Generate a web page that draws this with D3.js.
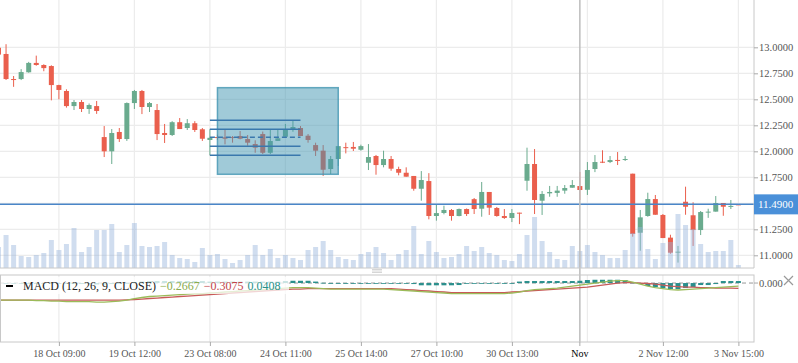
<!DOCTYPE html>
<html>
<head>
<meta charset="utf-8">
<script src="https://cdn.jsdelivr.net/npm/d3@7"></script>
<style>
    body { margin: 0; background: #fff; }
    svg { display: block; font-family: "Liberation Serif", "Times New Roman", serif; }
</style>
</head>
<body>
<script>
// candles, one per bar index
let open = [12.996, 12.936, 12.695, 12.695, 12.76, 12.85, 12.83, 12.82, 12.637, 12.58,
    12.435, 12.474, 12.407, 12.435, 12.137, 12.0, 12.186, 12.118, 12.464, 12.58,
    12.426, 12.397, 12.176, 12.157, 12.28, 12.224, 12.27, 12.212, 12.109, 12.137,
    12.135, 12.137, 12.147, 12.118, 12.07, 12.166, 11.986, 12.10, 12.14, 12.212,
    12.224, 12.15, 12.06, 12.006, 11.83, 11.926, 12.04, 12.042, 12.015, 11.89,
    11.955, 11.868, 11.926, 11.83, 11.794, 11.763, 11.64, 11.714, 11.378, 11.407,
    11.436, 11.378, 11.445, 11.54, 11.448, 11.609, 11.455, 11.378, 11.359, 11.41,
    11.717, 11.878, 11.525, 11.596, 11.60, 11.622, 11.65, 11.666, 11.63, 11.83,
    11.90, 11.897, 11.917, 11.92, 11.785, 11.217, 11.378, 11.541, 11.388, 11.17,
    11.03, 11.515, 11.385, 11.243, 11.416, 11.42, 11.503, 11.47, 11.49];
let high = [13.11, 13.03, 12.724, 12.79, 12.86, 12.92, 12.837, 12.827, 12.64, 12.596,
    12.493, 12.493, 12.46, 12.484, 12.243, 12.214, 12.224, 12.47, 12.59, 12.59,
    12.474, 12.455, 12.263, 12.29, 12.32, 12.31, 12.29, 12.224, 12.212, 12.16,
    12.205, 12.147, 12.195, 12.157, 12.106, 12.19, 12.205, 12.205, 12.263, 12.294,
    12.243, 12.166, 12.083, 12.06, 11.955, 12.05, 12.083, 12.09, 12.064, 12.07,
    11.965, 12.006, 11.955, 11.852, 11.846, 11.763, 11.81, 11.79, 11.49, 11.477,
    11.445, 11.45, 11.45, 11.551, 11.705, 11.609, 11.465, 11.445, 11.445, 11.41,
    12.035, 12.022, 11.618, 11.667, 11.667, 11.676, 11.724, 11.801, 11.897, 11.964,
    12.01, 11.955, 11.993, 11.955, 11.785, 11.436, 11.602, 11.58, 11.397, 11.198,
    11.09, 11.66, 11.51, 11.426, 11.448, 11.57, 11.503, 11.532, 11.49];
let low = [12.88, 12.686, 12.62, 12.685, 12.756, 12.823, 12.77, 12.49, 12.50, 12.42,
    12.397, 12.378, 12.36, 12.36, 11.945, 11.878, 12.09, 12.10, 12.407, 12.358,
    12.378, 12.108, 12.08, 12.147, 12.214, 12.205, 12.186, 12.10, 11.962, 12.11,
    12.067, 12.083, 12.115, 12.054, 11.986, 11.974, 11.974, 12.10, 12.14, 12.188,
    12.147, 12.083, 11.955, 11.763, 11.782, 11.859, 11.98, 12.003, 12.006, 11.82,
    11.775, 11.846, 11.813, 11.769, 11.756, 11.621, 11.525, 11.346, 11.333, 11.394,
    11.333, 11.375, 11.378, 11.397, 11.371, 11.388, 11.371, 11.35, 11.32, 11.30,
    11.621, 11.397, 11.388, 11.563, 11.563, 11.592, 11.65, 11.532, 11.58, 11.80,
    11.887, 11.887, 11.868, 11.907, 11.179, 11.044, 11.371, 11.39, 11.166, 11.015,
    10.93, 11.39, 11.09, 11.195, 11.36, 11.42, 11.38, 11.445, 11.487];
let close = [12.93, 12.695, 12.69, 12.762, 12.85, 12.83, 12.80, 12.637, 12.59, 12.435,
    12.474, 12.407, 12.445, 12.388, 12.0, 12.176, 12.118, 12.464, 12.58, 12.426,
    12.464, 12.166, 12.157, 12.28, 12.214, 12.27, 12.205, 12.121, 12.13, 12.133,
    12.121, 12.133, 12.121, 12.083, 12.035, 11.986, 12.099, 12.125, 12.212, 12.234,
    12.147, 12.109, 12.006, 11.823, 11.926, 12.05, 12.033, 12.025, 12.05, 11.945,
    11.868, 11.926, 11.833, 11.794, 11.756, 11.64, 11.724, 11.378, 11.406, 11.436,
    11.378, 11.445, 11.397, 11.445, 11.609, 11.458, 11.378, 11.359, 11.407, 11.405,
    11.878, 11.532, 11.59, 11.609, 11.622, 11.647, 11.676, 11.628, 11.82, 11.897,
    11.893, 11.916, 11.913, 11.926, 11.205, 11.365, 11.541, 11.39, 11.166, 11.025,
    11.035, 11.467, 11.243, 11.416, 11.42, 11.503, 11.467, 11.475, 11.488];
let volume = [21, 33, 23, 12, 11, 13, 15, 28, 18, 24,
    40, 16, 21, 38, 38, 44, 16, 23, 45, 22,
    21, 22, 26, 13, 10, 9, 6, 20, 13, 14,
    9, 5, 8, 13, 23, 13, 19, 10, 13, 10,
    8, 18, 21, 27, 18, 11, 9, 8, 14, 16,
    21, 15, 8, 14, 18, 42, 14, 27, 16, 10,
    11, 14, 22, 17, 21, 15, 13, 8, 7, 14,
    33, 51, 27, 16, 9, 8, 22, 17, 23, 16,
    13, 10, 10, 18, 35, 41, 19, 9, 25, 26,
    54, 43, 39, 24, 16, 17, 17, 28, 3];

// MACD (12, 26, 9)
let macd = [-0.254, -0.254, -0.254, -0.254, -0.254, -0.261, -0.261, -0.269, -0.269, -0.276,
    -0.276, -0.276, -0.276, -0.284, -0.284, -0.276, -0.269, -0.254, -0.231, -0.216,
    -0.201, -0.194, -0.187, -0.179, -0.172, -0.164, -0.157, -0.157, -0.149, -0.142,
    -0.134, -0.127, -0.119, -0.112, -0.104, -0.097, -0.090, -0.082, -0.075, -0.067,
    -0.067, -0.067, -0.075, -0.082, -0.090, -0.090, -0.090, -0.090, -0.090, -0.090,
    -0.090, -0.090, -0.097, -0.104, -0.112, -0.119, -0.127, -0.134, -0.142, -0.149,
    -0.157, -0.157, -0.157, -0.157, -0.157, -0.157, -0.157, -0.157, -0.149, -0.134,
    -0.112, -0.097, -0.090, -0.082, -0.075, -0.060, -0.045, -0.030, -0.015, 0,
    0.015, 0.030, 0.037, 0.037, 0.015, -0.015, -0.045, -0.067, -0.082, -0.097,
    -0.104, -0.097, -0.090, -0.082, -0.075, -0.067, -0.060, -0.052, -0.045];
let signal = [-0.254, -0.254, -0.254, -0.254, -0.254, -0.254, -0.254, -0.254, -0.254, -0.254,
    -0.254, -0.254, -0.254, -0.254, -0.254, -0.254, -0.254, -0.251, -0.246, -0.239,
    -0.231, -0.224, -0.216, -0.209, -0.201, -0.194, -0.187, -0.179, -0.172, -0.164,
    -0.157, -0.149, -0.142, -0.134, -0.127, -0.119, -0.112, -0.104, -0.097, -0.090,
    -0.090, -0.082, -0.082, -0.082, -0.082, -0.082, -0.082, -0.082, -0.082, -0.082,
    -0.082, -0.082, -0.082, -0.090, -0.097, -0.104, -0.112, -0.119, -0.127, -0.134,
    -0.142, -0.142, -0.142, -0.142, -0.142, -0.142, -0.142, -0.142, -0.134, -0.127,
    -0.119, -0.112, -0.104, -0.097, -0.090, -0.082, -0.075, -0.067, -0.060, -0.045,
    -0.030, -0.015, 0, 0.007, 0.007, 0, -0.007, -0.015, -0.030, -0.045,
    -0.052, -0.060, -0.060, -0.067, -0.067, -0.075, -0.075, -0.075, -0.079];
let hist = [-0.004, -0.004, -0.004, -0.004, -0.004, -0.004, -0.004, -0.004, -0.004, -0.004,
    -0.015, -0.015, -0.015, -0.022, -0.022, -0.015, -0.015, 0, 0.015, 0.022,
    0.030, 0.030, 0.030, 0.030, 0.030, 0.030, 0.030, 0.030, 0.022, 0.022,
    0.022, 0.022, 0.022, 0.022, 0.022, 0.022, 0.022, 0.022, 0.030, 0.034,
    0.034, 0.034, 0.022, 0.004, 0, -0.004, -0.004, -0.004, -0.004, -0.004,
    -0.004, -0.004, -0.007, -0.007, -0.007, -0.015, -0.034, -0.034, -0.034, -0.034,
    -0.034, -0.030, -0.007, -0.007, -0.007, -0.007, -0.007, -0.007, 0, 0.022,
    0.030, 0.030, 0.030, 0.030, 0.030, 0.030, 0.030, 0.034, 0.045, 0.049,
    0.049, 0.049, 0.049, 0.045, 0.007, -0.015, -0.045, -0.060, -0.075, -0.090,
    -0.090, -0.075, -0.060, -0.030, -0.030, -0.015, 0.030, 0.030, 0.030];
let macdLegend = ["\u22120.2667", "\u22120.3075", "0.0408"];

// axes
let priceTicks = [11, 11.25, 11.5, 11.75, 12, 12.25, 12.5, 12.75, 13];
let gridIdx = [8, 18, 28, 38, 48, 58, 68, 78, 88, 98];
let labelIdx = [8, 18, 28, 38, 48, 58, 68, 88, 98];
let labels = ["18 Oct 09:00", "19 Oct 12:00", "23 Oct 08:00", "24 Oct 11:00", "25 Oct 14:00",
    "27 Oct 10:00", "30 Oct 13:00", "2 Nov 12:00", "3 Nov 15:00"];
let cursorIdx = 77, cursorLabel = "Nov";
let lastPrice = 11.49;

// drawings on the chart
let boxIdx = [29, 45], boxPrice = [12.612, 11.779];
let levelIdx = [28, 40];
let levels = [12.298, 12.212, 12.135, 12.048, 11.962];

const plotR = 754, mainB = 268, macdT = 275, macdB = 342;

let svg = d3.select("body").append("svg").attr("width", 798).attr("height", 363);

let x = d3.scaleLinear().domain([0, 98]).range([-1.5, 738.4]);
let y = d3.scaleLinear().domain([10.878, 13.455]).range([mainB, 0]);
let yVol = d3.scaleLinear().domain([0, 100]).range([mainB, mainB - 100]);
let yM = d3.scaleLinear().domain([-0.88, 0.12]).range([macdB, macdT]);

let defs = svg.append("defs");
defs.append("clipPath").attr("id", "clipMain")
    .append("rect").attr("x", 0).attr("y", 0).attr("width", plotR).attr("height", mainB);
defs.append("clipPath").attr("id", "clipMacd")
    .append("rect").attr("x", 0).attr("y", macdT).attr("width", plotR).attr("height", macdB - macdT);

// grid
let grid = svg.append("g").attr("stroke", "#ececec").attr("stroke-width", 1.2);
priceTicks.forEach((p) => {
    grid.append("line").attr("x1", 0).attr("x2", plotR).attr("y1", y(p)).attr("y2", y(p));
});
gridIdx.forEach((i) => {
    grid.append("line").attr("x1", x(i)).attr("x2", x(i)).attr("y1", 0).attr("y2", mainB);
    grid.append("line").attr("x1", x(i)).attr("x2", x(i)).attr("y1", macdT).attr("y2", macdB);
});

let main = svg.append("g").attr("clip-path", "url(#clipMain)");
let idx = d3.range(open.length);
const red = "#ea5f4d", green = "#6aab8e";
let col = (i) => (close[i] >= open[i] ? green : red);

main.selectAll(".wick").data(idx).join("line")
    .attr("x1", (i) => x(i)).attr("x2", (i) => x(i))
    .attr("y1", (i) => y(high[i])).attr("y2", (i) => y(low[i]))
    .attr("stroke", col).attr("stroke-width", 1);
main.selectAll(".body").data(idx).join("rect")
    .attr("x", (i) => x(i) - 2.5).attr("width", 5)
    .attr("y", (i) => y(Math.max(open[i], close[i])))
    .attr("height", (i) => Math.max(1, Math.abs(y(open[i]) - y(close[i]))))
    .attr("fill", col);

// last price line
main.append("line").attr("x1", 0).attr("x2", plotR)
    .attr("y1", y(lastPrice)).attr("y2", y(lastPrice))
    .attr("stroke", "#4a86c8").attr("stroke-width", 1.5);

main.selectAll(".vol").data(idx).join("rect")
    .attr("x", (i) => x(i) - 2.5).attr("width", 5)
    .attr("y", (i) => yVol(volume[i]))
    .attr("height", (i) => mainB - yVol(volume[i]))
    .attr("fill", "rgba(150,180,220,0.45)");

// rectangle drawing
main.append("rect")
    .attr("x", x(boxIdx[0])).attr("y", y(boxPrice[0]))
    .attr("width", x(boxIdx[1]) - x(boxIdx[0]))
    .attr("height", y(boxPrice[1]) - y(boxPrice[0]))
    .attr("fill", "rgba(65,149,177,0.5)")
    .attr("stroke", "rgba(65,149,177,0.8)").attr("stroke-width", 1.5);

levels.forEach((p, k) => {
    main.append("line")
        .attr("x1", x(levelIdx[0])).attr("x2", x(levelIdx[1]))
        .attr("y1", y(p)).attr("y2", y(p))
        .attr("stroke", "#3a78ad").attr("stroke-width", 1.5)
        .attr("stroke-dasharray", k == 2 ? "5,3" : null);
});

// cursor line
svg.append("line").attr("x1", x(cursorIdx)).attr("x2", x(cursorIdx))
    .attr("y1", 0).attr("y2", macdB)
    .attr("stroke", "#bdbdbd").attr("stroke-width", 1.5);

// frame
svg.append("line").attr("x1", plotR).attr("x2", plotR).attr("y1", 0).attr("y2", mainB)
    .attr("stroke", "#c8c8c8");
svg.append("line").attr("x1", 0).attr("x2", plotR).attr("y1", mainB).attr("y2", mainB)
    .attr("stroke", "#c8c8c8");

// price axis
let yAxis = svg.append("g").attr("transform", `translate(${plotR},0)`)
    .call(d3.axisRight(y).tickValues(priceTicks).tickFormat(d3.format(".4f")).tickSize(4).tickPadding(1));
yAxis.select(".domain").remove();
yAxis.selectAll("line").attr("stroke", "#aaa");
yAxis.selectAll("text").attr("fill", "#555").style("font-size", "10.5px").style("font-family", "Liberation Serif");

svg.append("rect").attr("x", plotR).attr("y", y(lastPrice) - 10)
    .attr("width", 44).attr("height", 20).attr("fill", "#4a90d9");
svg.append("text").attr("x", plotR + 4).attr("y", y(lastPrice)).attr("dy", "0.35em")
    .attr("fill", "#fff").style("font-size", "11px").text(d3.format(".4f")(lastPrice));

// pane grip
[269.5, 271, 272.5].forEach((gy) => {
    svg.append("line").attr("x1", 372).attr("x2", 382).attr("y1", gy).attr("y2", gy)
        .attr("stroke", "#ccc").attr("stroke-width", 0.8);
});

// MACD pane
let mp = svg.append("g").attr("clip-path", "url(#clipMacd)");
mp.append("line").attr("x1", 0).attr("x2", plotR).attr("y1", yM(0)).attr("y2", yM(0))
    .attr("stroke", "#999").attr("stroke-dasharray", "4,3");
mp.selectAll(".hist").data(idx).join("rect")
    .attr("x", (i) => x(i) - 2.5).attr("width", 5)
    .attr("y", (i) => Math.min(yM(0), yM(hist[i])))
    .attr("height", (i) => Math.max(0.8, Math.abs(yM(hist[i]) - yM(0))))
    .attr("fill", "#2a8f8c");
let lineGen = (arr) => d3.line().x((i) => x(i)).y((i) => yM(arr[i]))(idx);
mp.append("path").attr("d", lineGen(signal)).attr("fill", "none")
    .attr("stroke", "#c85a58").attr("stroke-width", 1.3);
mp.append("path").attr("d", lineGen(macd)).attr("fill", "none")
    .attr("stroke", "#9bbb59").attr("stroke-width", 1.3);

svg.append("rect").attr("x", 0.5).attr("y", macdT).attr("width", plotR - 0.5).attr("height", macdB - macdT)
    .attr("fill", "none").attr("stroke", "#c8c8c8");

// legend
svg.append("rect").attr("x", 1).attr("y", 277).attr("width", 288).attr("height", 17)
    .attr("fill", "rgba(255,255,255,0.75)");
svg.append("line").attr("x1", 6).attr("x2", 13).attr("y1", 286).attr("y2", 286)
    .attr("stroke", "#000").attr("stroke-width", 2);
let leg = svg.append("text").attr("x", 23).attr("y", 290).style("font-size", "12px");
leg.append("tspan").attr("fill", "#222").text("MACD (12, 26, 9, CLOSE)");
leg.append("tspan").attr("dx", 4).attr("fill", "#8aac4e").text(macdLegend[0]);
leg.append("tspan").attr("dx", 4).attr("fill", "#c2454a").text(macdLegend[1]);
leg.append("tspan").attr("dx", 4).attr("fill", "#279089").text(macdLegend[2]);

// MACD axis
svg.append("line").attr("x1", plotR).attr("x2", plotR + 4).attr("y1", yM(0)).attr("y2", yM(0))
    .attr("stroke", "#aaa");
svg.append("text").attr("x", plotR + 5).attr("y", yM(0)).attr("dy", "0.35em")
    .attr("fill", "#555").style("font-size", "10.5px").text("0.000");
svg.append("path").attr("d", "M784,276L793,285M793,276L784,285")
    .attr("stroke", "#999").attr("stroke-width", 1.2);

// time axis
let xAxis = svg.append("g").attr("transform", `translate(0,${macdB})`)
    .call(d3.axisBottom(x).tickValues(labelIdx).tickFormat((d, i) => labels[i]).tickSize(4).tickPadding(4));
xAxis.select(".domain").remove();
xAxis.selectAll("line").attr("stroke", "#aaa");
xAxis.selectAll("text").attr("fill", "#555").style("font-size", "10px").style("font-family", "Liberation Serif");
svg.append("line").attr("x1", x(cursorIdx)).attr("x2", x(cursorIdx)).attr("y1", macdB).attr("y2", macdB + 4)
    .attr("stroke", "#aaa");
svg.append("text").attr("x", x(cursorIdx)).attr("y", macdB + 8).attr("dy", "0.71em")
    .attr("text-anchor", "middle").attr("fill", "#000").style("font-size", "10px").text(cursorLabel);
</script>
</body>
</html>
